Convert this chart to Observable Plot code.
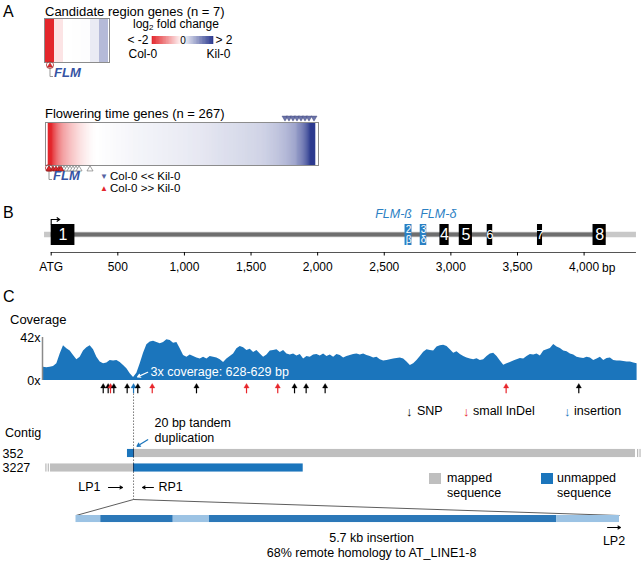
<!DOCTYPE html>
<html>
<head>
<meta charset="utf-8">
<script src="https://cdn.jsdelivr.net/npm/d3@7"></script>
<script src="https://cdn.jsdelivr.net/npm/@observablehq/plot@0.6"></script>
<style>
html,body{margin:0;padding:0;background:#fff;}
#fig{position:relative;width:641px;height:566px;overflow:hidden;font-family:"Liberation Sans",Arial,Helvetica,sans-serif;color:#000;}
#fig svg{position:absolute;left:0;background:transparent !important;overflow:visible !important;font-family:"Liberation Sans",Arial,Helvetica,sans-serif !important;max-width:none !important;}
.t{position:absolute;white-space:nowrap;line-height:1;}
</style>
</head>
<body>
<div id="fig"></div>
<script>
// ---------------- colours ----------------
const RED = "#e3262b", NAVY = "#2c3a8f", BLUE = "#1b75bc", GRAY = "#bfbfbf";
const FLMBLUE = "#3553a4", ISOBLUE = "#2b80c3";
const INS_LIGHT = "#9cc3e4", INS_DARK = "#2c78b8";

// ---------------- Panel A data ----------------
const candidateFC = [-2.8, -0.25, 0, 0.01, 0.02, 0.2, 0.7];
const candidateFlm = 0;
const floweringFC = [
 -3.2,-2.7,-2.3,-2.05,
 -1.85,-1.7,-1.6,-1.5,-1.38,-1.3,-1.2,-1.12,-1.05,-0.98,-0.92,
 -0.86,-0.82,-0.78,-0.74,-0.7,-0.66,-0.62,-0.59,-0.55,-0.52,-0.49,-0.46,-0.43,-0.4,-0.37,
 -0.34,-0.31,-0.28,-0.26,-0.23,-0.21,-0.19,-0.17,-0.15,-0.13,-0.11,-0.09,-0.07,-0.05,
 -0.04,-0.03,-0.02,-0.01,0,0,0,0.01,0.01,0.01,0.02,0.02,0.02,0.02,0.03,0.03,0.03,0.03,0.04,
 0.04,0.04,0.05,0.05,0.05,0.05,0.06,0.06,0.06,0.06,
 0.07,0.07,0.07,0.07,0.08,0.08,0.08,0.08,0.09,0.09,
 0.09,0.09,0.1,0.1,0.1,0.1,0.1,0.11,0.11,0.11,
 0.11,0.11,0.12,0.12,0.12,0.12,0.12,0.13,0.13,0.13,
 0.13,0.13,0.14,0.14,0.14,0.14,0.14,0.15,0.15,0.15,
 0.15,0.15,0.16,0.16,0.16,0.16,0.16,0.17,0.17,0.17,
 0.17,0.17,0.18,0.18,0.18,0.18,0.18,0.19,0.19,0.19,
 0.19,0.19,0.2,0.2,0.2,0.2,0.2,0.21,0.21,0.21,
 0.21,0.21,0.22,0.22,0.22,0.22,0.23,
 0.23,0.23,0.24,0.24,0.24,0.25,0.25,0.25,0.26,0.26,
 0.26,0.27,0.27,0.27,0.28,0.28,0.28,0.29,0.29,0.29,
 0.3,0.3,0.3,0.31,0.31,0.31,0.32,0.32,0.32,0.33,
 0.33,0.33,0.34,0.34,0.34,0.35,0.35,0.35,0.36,0.36,
 0.36,0.37,0.37,0.37,0.38,0.38,0.38,0.39,0.39,0.39,
 0.4,0.4,0.4,0.41,0.41,0.41,0.42,0.42,0.42,0.43,
 0.43,0.44,0.44,0.45,0.45,0.46,0.46,0.47,0.48,
 0.49,0.5,0.51,0.52,0.53,0.54,0.55,0.56,0.57,0.58,
 0.59,0.6,0.62,0.63,0.64,0.66,0.67,0.69,0.7,0.72,
 0.74,0.76,0.78,0.8,0.82,0.84,0.86,0.88,0.91,0.95,
 1.05,1.09,1.13,1.17,1.22,1.27,1.33,1.4,1.47,1.55,1.64,1.74,1.85,1.98,2.15,2.4,2.8,3.3
];
const floweringFlm = 0;
const floweringDown = [236, 240, 244, 248, 252, 256, 260, 265];   // Col-0 << Kil-0
const floweringUpSig = [0, 4, 7, 10, 12];                         // Col-0 >> Kil-0
const floweringUpOther = [15, 18, 21, 24, 27, 30, 41];
const fcLegendLeft = "< -2", fcLegendMid = "0", fcLegendRight = "> 2";
const fcLegendSides = ["Col-0", "Kil-0"];

// ---------------- Panel B data ----------------
const exons = [
  {n: "1", start: 0, end: 178},
  {n: "2", iso: "β", start: 2656, end: 2708},
  {n: "3", iso: "δ", start: 2770, end: 2819},
  {n: "4", start: 2918, end: 2987},
  {n: "5", start: 3063, end: 3162},
  {n: "6", start: 3273, end: 3314},
  {n: "7", start: 3650, end: 3688},
  {n: "8", start: 4067, end: 4166}
];
const isoforms = [{label: "FLM-ß", exon: "2", side: "end"}, {label: "FLM-δ", exon: "3", side: "start"}];
const geneRegion = {start: -50, end: 4393};
const bTicks = [0, 500, 1000, 1500, 2000, 2500, 3000, 3500, 4000];
const bTickLabels = ["ATG", "500", "1,000", "1,500", "2,000", "2,500", "3,000", "3,500", "4,000"];
const bUnit = "bp";

// ---------------- Panel C data ----------------
const coverageStart = -263, coverageStep = 33;   // bp sampling grid
const coverage = [
 13,12.4,13,13.7,16.3,26,34,31,28.7,24.4,
 20.2,22.8,28.7,32,34,30,22.8,18,16.3,17,
 19.5,19,19.5,17.6,14.7,11.4,6.5,3,7.2,16.3,
 26.7,35,37.5,38.4,37,36,37,39.7,39,36.5,
 37,31,24.4,22.8,24.8,23.5,22,21,22.8,21,
 23.5,22.8,22,20.2,17.6,21,23.5,26,31,33.2,
 32,29.3,30.6,27.4,29.3,26,22.8,24.8,28.7,29.3,
 30,27.4,29.3,26,24.8,26,24,25.4,21,23.5,
 22.8,24.8,25.4,24,26,23.5,24.8,22.8,25.4,24.4,
 22,23.5,24.4,25.4,26,24.8,26,24.4,23.5,
 22,22.8,20.2,19,19.5,20.2,21,21.5,22,21,
 18,14.7,16.3,19.5,23.5,27.7,30,29.3,28.7,32.6,
 34,34.5,33.2,30,26.7,28,25.4,23.5,22,21,
 20.2,21.2,19.5,20.2,23.5,26,26.7,23.5,19,15,
 16.3,17.6,19,20.2,21.5,21,23.5,25.4,24.8,26,
 24,28.7,30,31.3,35.2,32.6,31.3,28.7,28,26,
 24.8,22.8,22,21.5,22.8,22,19.5,21,22.8,19.5,
 21.5,22,19.5,19,19,18.6,18,18,17,16.3
];
const variantTypes = ["SNP", "small InDel", "insertion"];
const variants = [
  {pos: 328, type: "SNP"}, {pos: 377, type: "SNP"}, {pos: 400, type: "small InDel"},
  {pos: 433, type: "SNP"}, {pos: 565, type: "SNP"}, {pos: 628, type: "insertion"},
  {pos: 670, type: "SNP"}, {pos: 813, type: "small InDel"}, {pos: 1251, type: "SNP"},
  {pos: 1746, type: "small InDel"}, {pos: 2055, type: "small InDel"}, {pos: 2221, type: "SNP"},
  {pos: 2336, type: "SNP"}, {pos: 2524, type: "SNP"}, {pos: 4315, type: "small InDel"},
  {pos: 5034, type: "SNP"}
];
const dipNote = {pos: 628, cov: 3, label: "3x coverage: 628-629 bp"};
const contigs = ["352", "3227"];
const contigSegments = [
  {contig: "352", start: 568, end: 628, status: "unmapped"},
  {contig: "352", start: 628, end: 5595, status: "mapped"},
  {contig: "3227", start: -194, end: 628, status: "mapped"},
  {contig: "3227", start: 628, end: 2307, status: "unmapped"}
];
const contigBreaks = [{contig: "352", pos: 5595, side: 1}, {contig: "3227", pos: -194, side: -1}];
const junction = {pos: 628, note: "20 bp tandem\nduplication"};
const primers = [{name: "LP1", from: 380, to: 519}, {name: "RP1", from: 825, to: 717}];
const insertionLength = 5700;
const insertionSegments = [
  {start: 0, end: 260, kind: "flank"}, {start: 260, end: 1020, kind: "core"},
  {start: 1020, end: 1400, kind: "flank"}, {start: 1400, end: 5040, kind: "core"},
  {start: 5040, end: 5700, kind: "flank"}
];
const insertionNote = {pos: 3100, text: "5.7 kb insertion\n68% remote homology to AT_LINE1-8"};
const insertionPrimer = {name: "LP2", from: 5575, to: 5710};

// ---------------- helpers ----------------
const W = 641;
const fig = document.getElementById("fig");
function place(svg, top) { svg.style.top = top + "px"; fig.appendChild(svg); return svg; }
function label(html, x, y, size, css = "") {
  const d = document.createElement("div");
  d.className = "t"; d.innerHTML = html;
  d.style.cssText = `left:${x}px;top:${y - size * 0.5}px;font-size:${size}px;` + css;
  fig.appendChild(d); return d;
}
const triUp = {draw(c, s) { const k = Math.sqrt(s) / 3.5; c.moveTo(0, -2.6 * k); c.lineTo(3 * k, 2.4 * k); c.lineTo(-3 * k, 2.4 * k); c.closePath(); }};
const triDown = {draw(c, s) { const k = Math.sqrt(s) / 3.5; c.moveTo(0, 2.6 * k); c.lineTo(3 * k, -2.4 * k); c.lineTo(-3 * k, -2.4 * k); c.closePath(); }};
const corner = {draw(c) { c.moveTo(0, -4); c.lineTo(0, 4); c.lineTo(3, 4); }};
const tss = {draw(c) { c.moveTo(0, 0); c.lineTo(0, -5); c.lineTo(8, -5); c.moveTo(5.5, -7); c.lineTo(8.5, -5); c.lineTo(5.5, -3); }};
const colorOpts = {type: "linear", domain: [-2, 0, 2], range: [RED, "#ffffff", NAVY], interpolate: "rgb", clamp: true};

function flmMarks(data) {
  return [
    Plot.dot(data, {x: "i", frameAnchor: "bottom", dy: 2.5, r: 3.6, fill: "none", stroke: "#b03030", strokeWidth: 0.8}),
    Plot.dot(data, {x: "i", frameAnchor: "bottom", dy: 2.5, symbol: triUp, r: 1.8, fill: RED, stroke: "#7a1a1a", strokeWidth: 0.4}),
    Plot.dot(data, {x: "i", frameAnchor: "bottom", dy: 10, symbol: corner, fill: "none", stroke: "#8a8a8a", strokeWidth: 0.9}),
    Plot.text(data, {x: "i", frameAnchor: "bottom", dx: 4, dy: 14, text: () => "FLM", textAnchor: "start",
      fill: FLMBLUE, fontWeight: "bold", fontStyle: "italic", fontSize: 13})
  ];
}

// ---------------- Panel A: candidate region ----------------
const candGenes = candidateFC.map((v, i) => ({i, v}));
place(Plot.plot({
  width: W, height: 95, marginTop: 18, marginBottom: 33, marginLeft: 44, marginRight: 532,
  x: {type: "band", domain: candGenes.map(d => d.i), padding: 0, axis: null},
  color: colorOpts,
  marks: [
    Plot.cell(candGenes, {x: "i", fill: "v"}),
    Plot.frame({stroke: "#8c8c8c"}),
    ...flmMarks(candGenes.filter(d => d.i === candidateFlm))
  ]
}), 0);

// colour legend
const legendStops = d3.range(-2, 2, 0.05);
place(Plot.plot({
  width: W, height: 60, marginTop: 36, marginBottom: 16, marginLeft: 152, marginRight: 428,
  x: {domain: [-2, 2], axis: null}, y: {domain: [0, 1], axis: null},
  color: colorOpts,
  marks: [
    Plot.rect(legendStops, {x1: d => d, x2: d => d + 0.05, y1: 0, y2: 1, fill: d => d + 0.025, insetLeft: -0.3, insetRight: -0.3}),
    Plot.text([fcLegendLeft], {x: -2, y: 0.5, text: d => d, textAnchor: "end", dx: -4, fontSize: 12}),
    Plot.text([fcLegendMid], {x: 0, y: 0.5, text: d => d, fontSize: 10}),
    Plot.text([fcLegendRight], {x: 2, y: 0.5, text: d => d, textAnchor: "start", dx: 2, fontSize: 12}),
    Plot.text([fcLegendSides[0]], {x: -2, y: -1.2, text: d => d, textAnchor: "start", dx: -24, fontSize: 12}),
    Plot.text([fcLegendSides[1]], {x: 2, y: -1.2, text: d => d, textAnchor: "end", dx: 17, fontSize: 12})
  ]
}), 0);

// ---------------- Panel A: flowering time genes ----------------
const flGenes = floweringFC.map((v, i) => ({i, v}));
const pick = idx => flGenes.filter(d => idx.includes(d.i));
place(Plot.plot({
  width: W, height: 110, marginTop: 27, marginBottom: 40, marginLeft: 45, marginRight: 323,
  x: {type: "band", domain: flGenes.map(d => d.i), padding: 0, axis: null},
  color: colorOpts,
  marks: [
    Plot.cell(flGenes, {x: "i", fill: "v", insetLeft: -0.3, insetRight: -0.3}),
    Plot.frame({stroke: "#8c8c8c"}),
    Plot.dot(pick(floweringDown), {x: "i", frameAnchor: "top", dy: -4, symbol: triDown, r: 2, fill: "#6c74a8", stroke: "#3b4278", strokeWidth: 0.4}),
    Plot.dot(pick(floweringUpOther), {x: "i", frameAnchor: "bottom", dy: 3, symbol: triUp, r: 2, fill: "white", stroke: "#7a7a7a", strokeWidth: 0.7}),
    Plot.dot(pick(floweringUpSig), {x: "i", frameAnchor: "bottom", dy: 3, symbol: triUp, r: 2, fill: RED, stroke: "#6b1a1a", strokeWidth: 0.5}),
    ...flmMarks(pick([floweringFlm]))
  ]
}), 95);

// ---------------- Panel B: gene model ----------------
const mid = d => (d.start + d.end) / 2;
const exonById = Object.fromEntries(exons.map(d => [d.n, d]));
place(Plot.plot({
  width: W, height: 90, marginTop: 29, marginBottom: 33, marginLeft: 50.7, marginRight: 57.4,
  x: {domain: [0, 4000], axis: null}, y: {domain: [0, 1], axis: null},
  marks: [
    Plot.ruleY([geneRegion], {y: 0.643, x1: "start", x2: "end", stroke: "#c8c8c8", strokeWidth: 5.5}),
    Plot.ruleY([{start: exons[0].start, end: exons[exons.length - 1].end}], {y: 0.643, x1: "start", x2: "end", stroke: "#6e6e6e", strokeWidth: 4}),
    Plot.rect(exons.filter(d => !d.iso), {x1: "start", x2: "end", y1: 0.25, y2: 1, fill: "black"}),
    Plot.rect(exons.filter(d => d.iso), {x1: "start", x2: "end", y1: 0.25, y2: 1, fill: ISOBLUE}),
    Plot.text(exons.filter(d => !d.iso), {x: mid, y: 0.62, text: "n", fill: "white", fontSize: d => (d.end - d.start) < 60 ? 13 : 16}),
    Plot.text(exons.filter(d => d.iso), {x: mid, y: 0.8, text: "n", fill: "white", fontSize: 10}),
    Plot.text(exons.filter(d => d.iso), {x: mid, y: 0.45, text: "iso", fill: "white", fontSize: 10}),
    Plot.text(isoforms.filter(d => d.side === "end"), {x: d => exonById[d.exon].end, y: 1.39, text: "label", textAnchor: "end", fill: ISOBLUE, fontStyle: "italic", fontSize: 12.5}),
    Plot.text(isoforms.filter(d => d.side === "start"), {x: d => exonById[d.exon].start, y: 1.39, text: "label", textAnchor: "start", fill: ISOBLUE, fontStyle: "italic", fontSize: 12.5}),
    Plot.dot([exons[0]], {x: "start", y: 1, symbol: tss, fill: "none", stroke: "black", strokeWidth: 1.1}),
    Plot.ruleY([geneRegion], {y: 0, x1: () => 0, x2: "end", stroke: "#555"}),
    Plot.axisX(bTicks, {tickFormat: d => bTickLabels[bTicks.indexOf(d)], tickSize: 3.5, tickPadding: 6, fontSize: 12, label: null}),
    Plot.text([bUnit], {x: 4000, y: 0, dy: 16, dx: 18, text: d => d, textAnchor: "start", fontSize: 12})
  ]
}), 195);

// ---------------- Panel C: coverage ----------------
const covData = coverage.map((c, i) => ({pos: coverageStart + i * coverageStep, cov: c}));
const xC = {domain: [coverageStart, coverageStart + (coverage.length - 1) * coverageStep], axis: null};
const variantColor = {domain: variantTypes, range: ["#000000", "#e8262b", BLUE]};
place(Plot.plot({
  width: W, height: 100, marginTop: 17, marginBottom: 40, marginLeft: 43, marginRight: 4.4,
  x: xC, y: {domain: [0, 42], axis: null},
  color: variantColor,
  marks: [
    Plot.areaY(covData, {x: "pos", y: "cov", fill: BLUE}),
    Plot.ruleX([coverageStart], {y1: 0, y2: 42, stroke: "#8a8a8a", strokeWidth: 1.5, dx: -1}),
    Plot.axisY([0, 42], {tickFormat: d => d + "x", tickSize: 0, tickPadding: 3, fontSize: 12.5, label: null}),
    Plot.text([dipNote], {x: "pos", y: "cov", text: "label", fill: "white", textAnchor: "start", dx: 17, dy: -5, fontSize: 12.5}),
    Plot.arrow([dipNote], {x1: d => d.pos + 140, y1: d => d.cov + 5, x2: d => d.pos + 40, y2: d => d.cov + 0.5, stroke: "white", headLength: 4, strokeWidth: 1.2}),
    Plot.ruleX(variants, {x: "pos", y1: -13, y2: -5, stroke: "type", strokeWidth: 1.2}),
    Plot.dot(variants, {x: "pos", y: -5.2, symbol: triUp, r: 1.7, fill: "type", stroke: "type", strokeWidth: 0.4})
  ]
}), 320);

// ---------------- Panel C: contigs ----------------
const row = d => contigs.indexOf(d.contig);
const contigPlot = place(Plot.plot({
  width: W, height: 125, marginTop: 48, marginBottom: 62.5, marginLeft: 43, marginRight: 4.4,
  x: xC, y: {domain: [0, 1], reverse: true, axis: null},
  color: {domain: ["mapped", "unmapped"], range: [GRAY, BLUE]},
  marks: [
    Plot.ruleX([junction], {x: "pos", y1: -4.1, y2: 3.2, stroke: "#555", strokeDasharray: "1.2,1.8", strokeWidth: 1}),
    Plot.rect(contigSegments, {x1: "start", x2: "end", y1: d => row(d) - 0.28, y2: d => row(d) + 0.28, fill: "status"}),
    Plot.ruleX(contigs, {x: () => junction.pos, y1: (d, i) => i - 0.28, y2: (d, i) => i + 0.28, stroke: "#173a63", strokeWidth: 1}),
    Plot.ruleX(contigBreaks, {x: d => d.pos + d.side * 22, y1: d => row(d) - 0.28, y2: d => row(d) + 0.28, stroke: "#aaaaaa", strokeWidth: 1}),
    Plot.ruleX(contigBreaks, {x: d => d.pos + d.side * 45, y1: d => row(d) - 0.28, y2: d => row(d) + 0.28, stroke: "#aaaaaa", strokeWidth: 1}),
    Plot.text(contigs, {y: (d, i) => i, text: d => d, frameAnchor: "left", dx: -41, textAnchor: "start", fontSize: 12.5}),
    Plot.text([junction], {x: "pos", y: -1.62, text: "note", textAnchor: "start", dx: 21, lineHeight: 1.2, fontSize: 12.5}),
    Plot.arrow([junction], {x1: d => d.pos + 140, y1: -0.95, x2: d => d.pos + 35, y2: -0.5, stroke: BLUE, headLength: 4, strokeWidth: 1.3}),
    Plot.arrow(primers, {x1: "from", x2: "to", y1: 2.34, y2: 2.34, headLength: 4, strokeWidth: 1.1}),
    Plot.text(primers.filter(d => d.to > d.from), {x: "from", y: 2.34, text: "name", textAnchor: "end", dx: -8, fontSize: 12.5}),
    Plot.text(primers.filter(d => d.to < d.from), {x: "from", y: 2.34, text: "name", textAnchor: "start", dx: 5, fontSize: 12.5})
  ]
}), 405);

// ---------------- Panel C: insertion ----------------
const insMarginLeft = 75.5, insMarginRight = 22;
const insScale = Plot.scale({x: {domain: [0, insertionLength], range: [insMarginLeft, W - insMarginRight]}});
const apex = insScale.invert(contigPlot.scale("x").apply(junction.pos));
const zoomLines = [{to: 0}, {to: insertionLength}];
place(Plot.plot({
  width: W, height: 86, marginTop: 19, marginBottom: 51, marginLeft: insMarginLeft, marginRight: insMarginRight,
  x: {domain: [0, insertionLength], axis: null}, y: {domain: [0, 1], reverse: true, axis: null},
  color: {domain: ["flank", "core"], range: [INS_LIGHT, INS_DARK]},
  marks: [
    Plot.link(zoomLines, {x1: () => apex, y1: 0, x2: "to", y2: 1, stroke: "#333", strokeWidth: 0.8}),
    Plot.rect(insertionSegments, {x1: "start", x2: "end", y1: 1, y2: 1.44, fill: "kind"}),
    Plot.text([insertionNote], {x: "pos", y: 2.8, text: "text", lineHeight: 1.24, fontSize: 12.5}),
    Plot.arrow([insertionPrimer], {x1: "from", x2: "to", y1: 1.75, y2: 1.75, headLength: 4, strokeWidth: 1.1}),
    Plot.text([insertionPrimer], {x: d => (d.from + d.to) / 2, y: 2.62, text: "name", fontSize: 12.5})
  ]
}), 480);

// ---------------- HTML titles & legends ----------------
label("A", 3, 12, 16);
label("Candidate region genes (n = 7)", 45, 11, 13);
label('log<sub style="font-size:8px;vertical-align:-2px">2</sub> fold change', 133, 24, 12);
label("Flowering time genes (n = 267)", 45, 113, 13);
label("▼", 100, 177, 8, "color:#5763a3;");
label("Col-0 &lt;&lt; Kil-0", 110, 177, 11.5);
label("▲", 100, 189, 8, `color:${RED};`);
label("Col-0 &gt;&gt; Kil-0", 110, 189, 11.5);
label("B", 3, 213, 16);
label("C", 3, 297, 16);
label("Coverage", 10, 319, 13);
label("↓", 406, 411, 13, "color:#000;font-weight:bold;");
label("SNP", 417, 411, 12.5);
label("↓", 463, 411, 13, "color:#e8262b;font-weight:bold;");
label("small InDel", 473, 411, 12.5);
label("↓", 564, 411, 13, `color:${BLUE};font-weight:bold;`);
label("insertion", 574, 411, 12.5);
label("Contig", 5, 433, 12.5);
label("", 429, 478, 11, `width:12px;height:11px;background:${GRAY};`);
label("mapped", 447, 478, 12.5);
label("sequence", 447, 493, 12.5);
label("", 541, 478, 11, `width:12px;height:11px;background:${BLUE};`);
label("unmapped", 557, 478, 12.5);
label("sequence", 557, 493, 12.5);
</script>
</body>
</html>
